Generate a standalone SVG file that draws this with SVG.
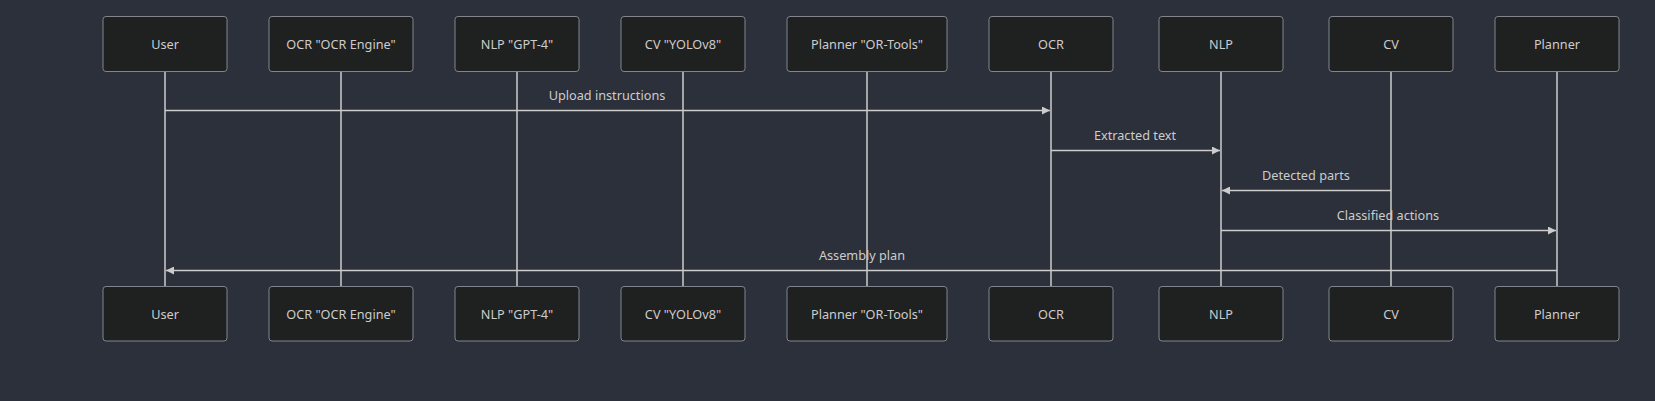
<svg xmlns="http://www.w3.org/2000/svg" width="1655" height="401" viewBox="0 0 1655 401">
<style>
.bg{fill:#2b303b}
.actor rect{fill:#1f2020;stroke:#81868e;stroke-width:1}
.actor text{fill:#ccc;font-family:"Noto Sans","Liberation Sans",sans-serif;font-size:12.7px;text-anchor:middle;dominant-baseline:central}
.life{stroke:#ccc;stroke-width:1.5}
.msg{stroke:#ccc;stroke-width:1.5;fill:none}
.lbl{fill:#ccc;font-family:"Noto Sans","Liberation Sans",sans-serif;font-size:12.7px;text-anchor:middle}
</style>
<defs>
<marker id="ah" viewBox="0 0 10 10" refX="10" refY="5" markerWidth="9" markerHeight="8" markerUnits="userSpaceOnUse" orient="auto">
<path d="M0,0 L10,5 L0,10 z" fill="#ccc"/>
</marker>
</defs>
<rect class="bg" x="0" y="0" width="1655" height="401"/>
<g id="lifelines">
<line class="life" x1="165" y1="71" x2="165" y2="286"/>
<line class="life" x1="341" y1="71" x2="341" y2="286"/>
<line class="life" x1="517" y1="71" x2="517" y2="286"/>
<line class="life" x1="683" y1="71" x2="683" y2="286"/>
<line class="life" x1="867" y1="71" x2="867" y2="286"/>
<line class="life" x1="1051" y1="71" x2="1051" y2="286"/>
<line class="life" x1="1221" y1="71" x2="1221" y2="286"/>
<line class="life" x1="1391" y1="71" x2="1391" y2="286"/>
<line class="life" x1="1557" y1="71" x2="1557" y2="286"/>
</g>
<g id="actor-User-top" class="actor"><rect x="103" y="16.5" width="124" height="55" rx="3"/><text x="165" y="44">User</text></g>
<g id="actor-OCREngine-top" class="actor"><rect x="269" y="16.5" width="144" height="55" rx="3"/><text x="341" y="44">OCR "OCR Engine"</text></g>
<g id="actor-GPT4-top" class="actor"><rect x="455" y="16.5" width="124" height="55" rx="3"/><text x="517" y="44">NLP "GPT-4"</text></g>
<g id="actor-YOLOv8-top" class="actor"><rect x="621" y="16.5" width="124" height="55" rx="3"/><text x="683" y="44">CV "YOLOv8"</text></g>
<g id="actor-ORTools-top" class="actor"><rect x="787" y="16.5" width="160" height="55" rx="3"/><text x="867" y="44">Planner "OR-Tools"</text></g>
<g id="actor-OCR-top" class="actor"><rect x="989" y="16.5" width="124" height="55" rx="3"/><text x="1051" y="44">OCR</text></g>
<g id="actor-NLP-top" class="actor"><rect x="1159" y="16.5" width="124" height="55" rx="3"/><text x="1221" y="44">NLP</text></g>
<g id="actor-CV-top" class="actor"><rect x="1329" y="16.5" width="124" height="55" rx="3"/><text x="1391" y="44">CV</text></g>
<g id="actor-Planner-top" class="actor"><rect x="1495" y="16.5" width="124" height="55" rx="3"/><text x="1557" y="44">Planner</text></g>

<g id="actor-User-bottom" class="actor"><rect x="103" y="286.5" width="124" height="54.5" rx="3"/><text x="165" y="314">User</text></g>
<g id="actor-OCREngine-bottom" class="actor"><rect x="269" y="286.5" width="144" height="54.5" rx="3"/><text x="341" y="314">OCR "OCR Engine"</text></g>
<g id="actor-GPT4-bottom" class="actor"><rect x="455" y="286.5" width="124" height="54.5" rx="3"/><text x="517" y="314">NLP "GPT-4"</text></g>
<g id="actor-YOLOv8-bottom" class="actor"><rect x="621" y="286.5" width="124" height="54.5" rx="3"/><text x="683" y="314">CV "YOLOv8"</text></g>
<g id="actor-ORTools-bottom" class="actor"><rect x="787" y="286.5" width="160" height="54.5" rx="3"/><text x="867" y="314">Planner "OR-Tools"</text></g>
<g id="actor-OCR-bottom" class="actor"><rect x="989" y="286.5" width="124" height="54.5" rx="3"/><text x="1051" y="314">OCR</text></g>
<g id="actor-NLP-bottom" class="actor"><rect x="1159" y="286.5" width="124" height="54.5" rx="3"/><text x="1221" y="314">NLP</text></g>
<g id="actor-CV-bottom" class="actor"><rect x="1329" y="286.5" width="124" height="54.5" rx="3"/><text x="1391" y="314">CV</text></g>
<g id="actor-Planner-bottom" class="actor"><rect x="1495" y="286.5" width="124" height="54.5" rx="3"/><text x="1557" y="314">Planner</text></g>

<g id="connectors">
<line class="msg" x1="165" y1="110.5" x2="1050" y2="110.5" marker-end="url(#ah)"/>
<text class="lbl" x="607" y="100">Upload instructions</text>
<line class="msg" x1="1051" y1="150.5" x2="1220" y2="150.5" marker-end="url(#ah)"/>
<text class="lbl" x="1135" y="140">Extracted text</text>
<line class="msg" x1="1391" y1="190.5" x2="1222" y2="190.5" marker-end="url(#ah)"/>
<text class="lbl" x="1306" y="180">Detected parts</text>
<line class="msg" x1="1221" y1="230.5" x2="1556" y2="230.5" marker-end="url(#ah)"/>
<text class="lbl" x="1388" y="220">Classified actions</text>
<line class="msg" x1="1557" y1="270.5" x2="166" y2="270.5" marker-end="url(#ah)"/>
<text class="lbl" x="862" y="259.5">Assembly plan</text>
</g>
</svg>
